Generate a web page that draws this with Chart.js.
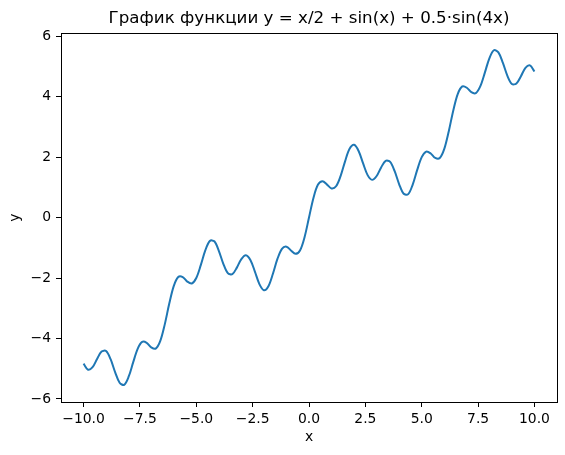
<!DOCTYPE html>
<html>
<head>
<meta charset="utf-8">
<script src="https://cdn.jsdelivr.net/npm/chart.js@4"></script>
<style>
  html, body { margin: 0; padding: 0; background: #fff; }
  #wrap { width: 565px; height: 455px; }
</style>
</head>
<body>
<div id="wrap"><canvas id="chart"></canvas></div>
<script>
// values, x step 0.2
const xValues = [
  -10.0, -9.8, -9.6, -9.4, -9.2, -9.0, -8.8, -8.6, -8.4, -8.2,
  -8.0, -7.8, -7.6, -7.4, -7.2, -7.0, -6.8, -6.6, -6.4, -6.2,
  -6.0, -5.8, -5.6, -5.4, -5.2, -5.0, -4.8, -4.6, -4.4, -4.2,
  -4.0, -3.8, -3.6, -3.4, -3.2, -3.0, -2.8, -2.6, -2.4, -2.2,
  -2.0, -1.8, -1.6, -1.4, -1.2, -1.0, -0.8, -0.6, -0.4, -0.2,
  0.0, 0.2, 0.4, 0.6, 0.8, 1.0, 1.2, 1.4, 1.6, 1.8,
  2.0, 2.2, 2.4, 2.6, 2.8, 3.0, 3.2, 3.4, 3.6, 3.8,
  4.0, 4.2, 4.4, 4.6, 4.8, 5.0, 5.2, 5.4, 5.6, 5.8,
  6.0, 6.2, 6.4, 6.6, 6.8, 7.0, 7.2, 7.4, 7.6, 7.8,
  8.0, 8.2, 8.4, 8.6, 8.8, 9.0, 9.2, 9.4, 9.6, 9.8,
  10.0
];
const yValues = [
  -4.829, -5.032, -4.948, -4.675, -4.432, -4.416, -4.685, -5.113, -5.463, -5.532,
  -5.265, -4.791, -4.343, -4.114, -4.143, -4.292, -4.334, -4.089, -3.542, -2.854,
  -2.268, -1.968, -1.970, -2.118, -2.181, -1.998, -1.575, -1.089, -0.774, -0.785,
  -1.099, -1.531, -1.840, -1.874, -1.657, -1.373, -1.245, -1.402, -1.788, -2.201,
  -2.404, -2.271, -1.858, -1.370, -1.034, -0.963, -1.088, -1.202, -1.089, -0.657,
  0.000, 0.657, 1.089, 1.202, 1.088, 0.963, 1.034, 1.370, 1.858, 2.271,
  2.404, 2.201, 1.788, 1.402, 1.245, 1.373, 1.657, 1.874, 1.840, 1.531,
  1.099, 0.785, 0.774, 1.089, 1.575, 1.998, 2.181, 2.118, 1.970, 1.968,
  2.268, 2.854, 3.542, 4.089, 4.334, 4.292, 4.143, 4.114, 4.343, 4.791,
  5.265, 5.532, 5.463, 5.113, 4.685, 4.416, 4.432, 4.675, 4.948, 5.032,
  4.829
];
const xTicks = [-10, -7.5, -5, -2.5, 0, 2.5, 5, 7.5, 10];
const yTicks = [-6, -4, -2, 0, 2, 4, 6];

const lineColor = '#1f77b4';
const fontFamily = "'DejaVu Sans', sans-serif";

// matplotlib uses a real minus sign
const fmt = (v, digits) => v.toFixed(digits).replace('-', '\u2212');

// full box around the plot area (the axes only draw two sides)
const frame = {
  id: 'frame',
  afterDraw(chart) {
    const { ctx, chartArea: a } = chart;
    ctx.save();
    ctx.strokeStyle = '#000';
    ctx.lineWidth = 1;
    ctx.strokeRect(Math.round(a.left) + 0.5, Math.round(a.top) + 0.5,
      Math.round(a.right - a.left), Math.round(a.bottom - a.top));
    ctx.restore();
  }
};

new Chart(document.getElementById('chart'), {
  type: 'line',
  data: {
    datasets: [{
      data: xValues.map((x, i) => ({ x: x, y: yValues[i] })),
      borderColor: lineColor,
      borderWidth: 2,
      pointRadius: 0,
      tension: 0.33,
      fill: false
    }]
  },
  options: {
    responsive: true,
    maintainAspectRatio: false,
    animation: false,
    devicePixelRatio: 1,
    layout: { padding: { left: 0, right: 8, top: 0, bottom: 0 } },
    plugins: {
      legend: { display: false },
      tooltip: { enabled: false },
      title: {
        display: true,
        fullSize: false,   // centre over the plot area like matplotlib
        text: 'График функции y = x/2 + sin(x) + 0.5·sin(4x)',
        color: '#000',
        font: { family: fontFamily, size: 16.7, weight: 'normal' },
        padding: { top: 9, bottom: 4 }
      }
    },
    scales: {
      x: {
        type: 'linear',
        min: -11,
        max: 11,
        afterBuildTicks: s => { s.ticks = xTicks.map(v => ({ value: v })); },
        afterFit: s => { s.height = 53; },
        grid: { drawOnChartArea: false, drawTicks: true, tickLength: 5, color: '#000' },
        border: { display: false },
        ticks: {
          color: '#000',
          padding: 4,
          maxRotation: 0,
          font: { family: fontFamily, size: 13.9 },
          callback: v => fmt(v, 1)
        },
        title: {
          display: true,
          text: 'x',
          color: '#000',
          font: { family: fontFamily, size: 13.9 },
          padding: { top: 0, bottom: 9 }
        }
      },
      y: {
        type: 'linear',
        min: -6.1,
        max: 6.1,
        afterBuildTicks: s => { s.ticks = yTicks.map(v => ({ value: v })); },
        afterFit: s => { s.width = 61; },
        grid: { drawOnChartArea: false, drawTicks: true, tickLength: 5, color: '#000' },
        border: { display: false },
        ticks: {
          color: '#000',
          padding: 5,
          font: { family: fontFamily, size: 13.9 },
          callback: v => fmt(v, 0)
        },
        title: {
          display: true,
          text: 'y',
          color: '#000',
          font: { family: fontFamily, size: 13.9 },
          padding: { top: 7, bottom: 0 }
        }
      }
    }
  },
  plugins: [frame]
});
</script>
</body>
</html>
